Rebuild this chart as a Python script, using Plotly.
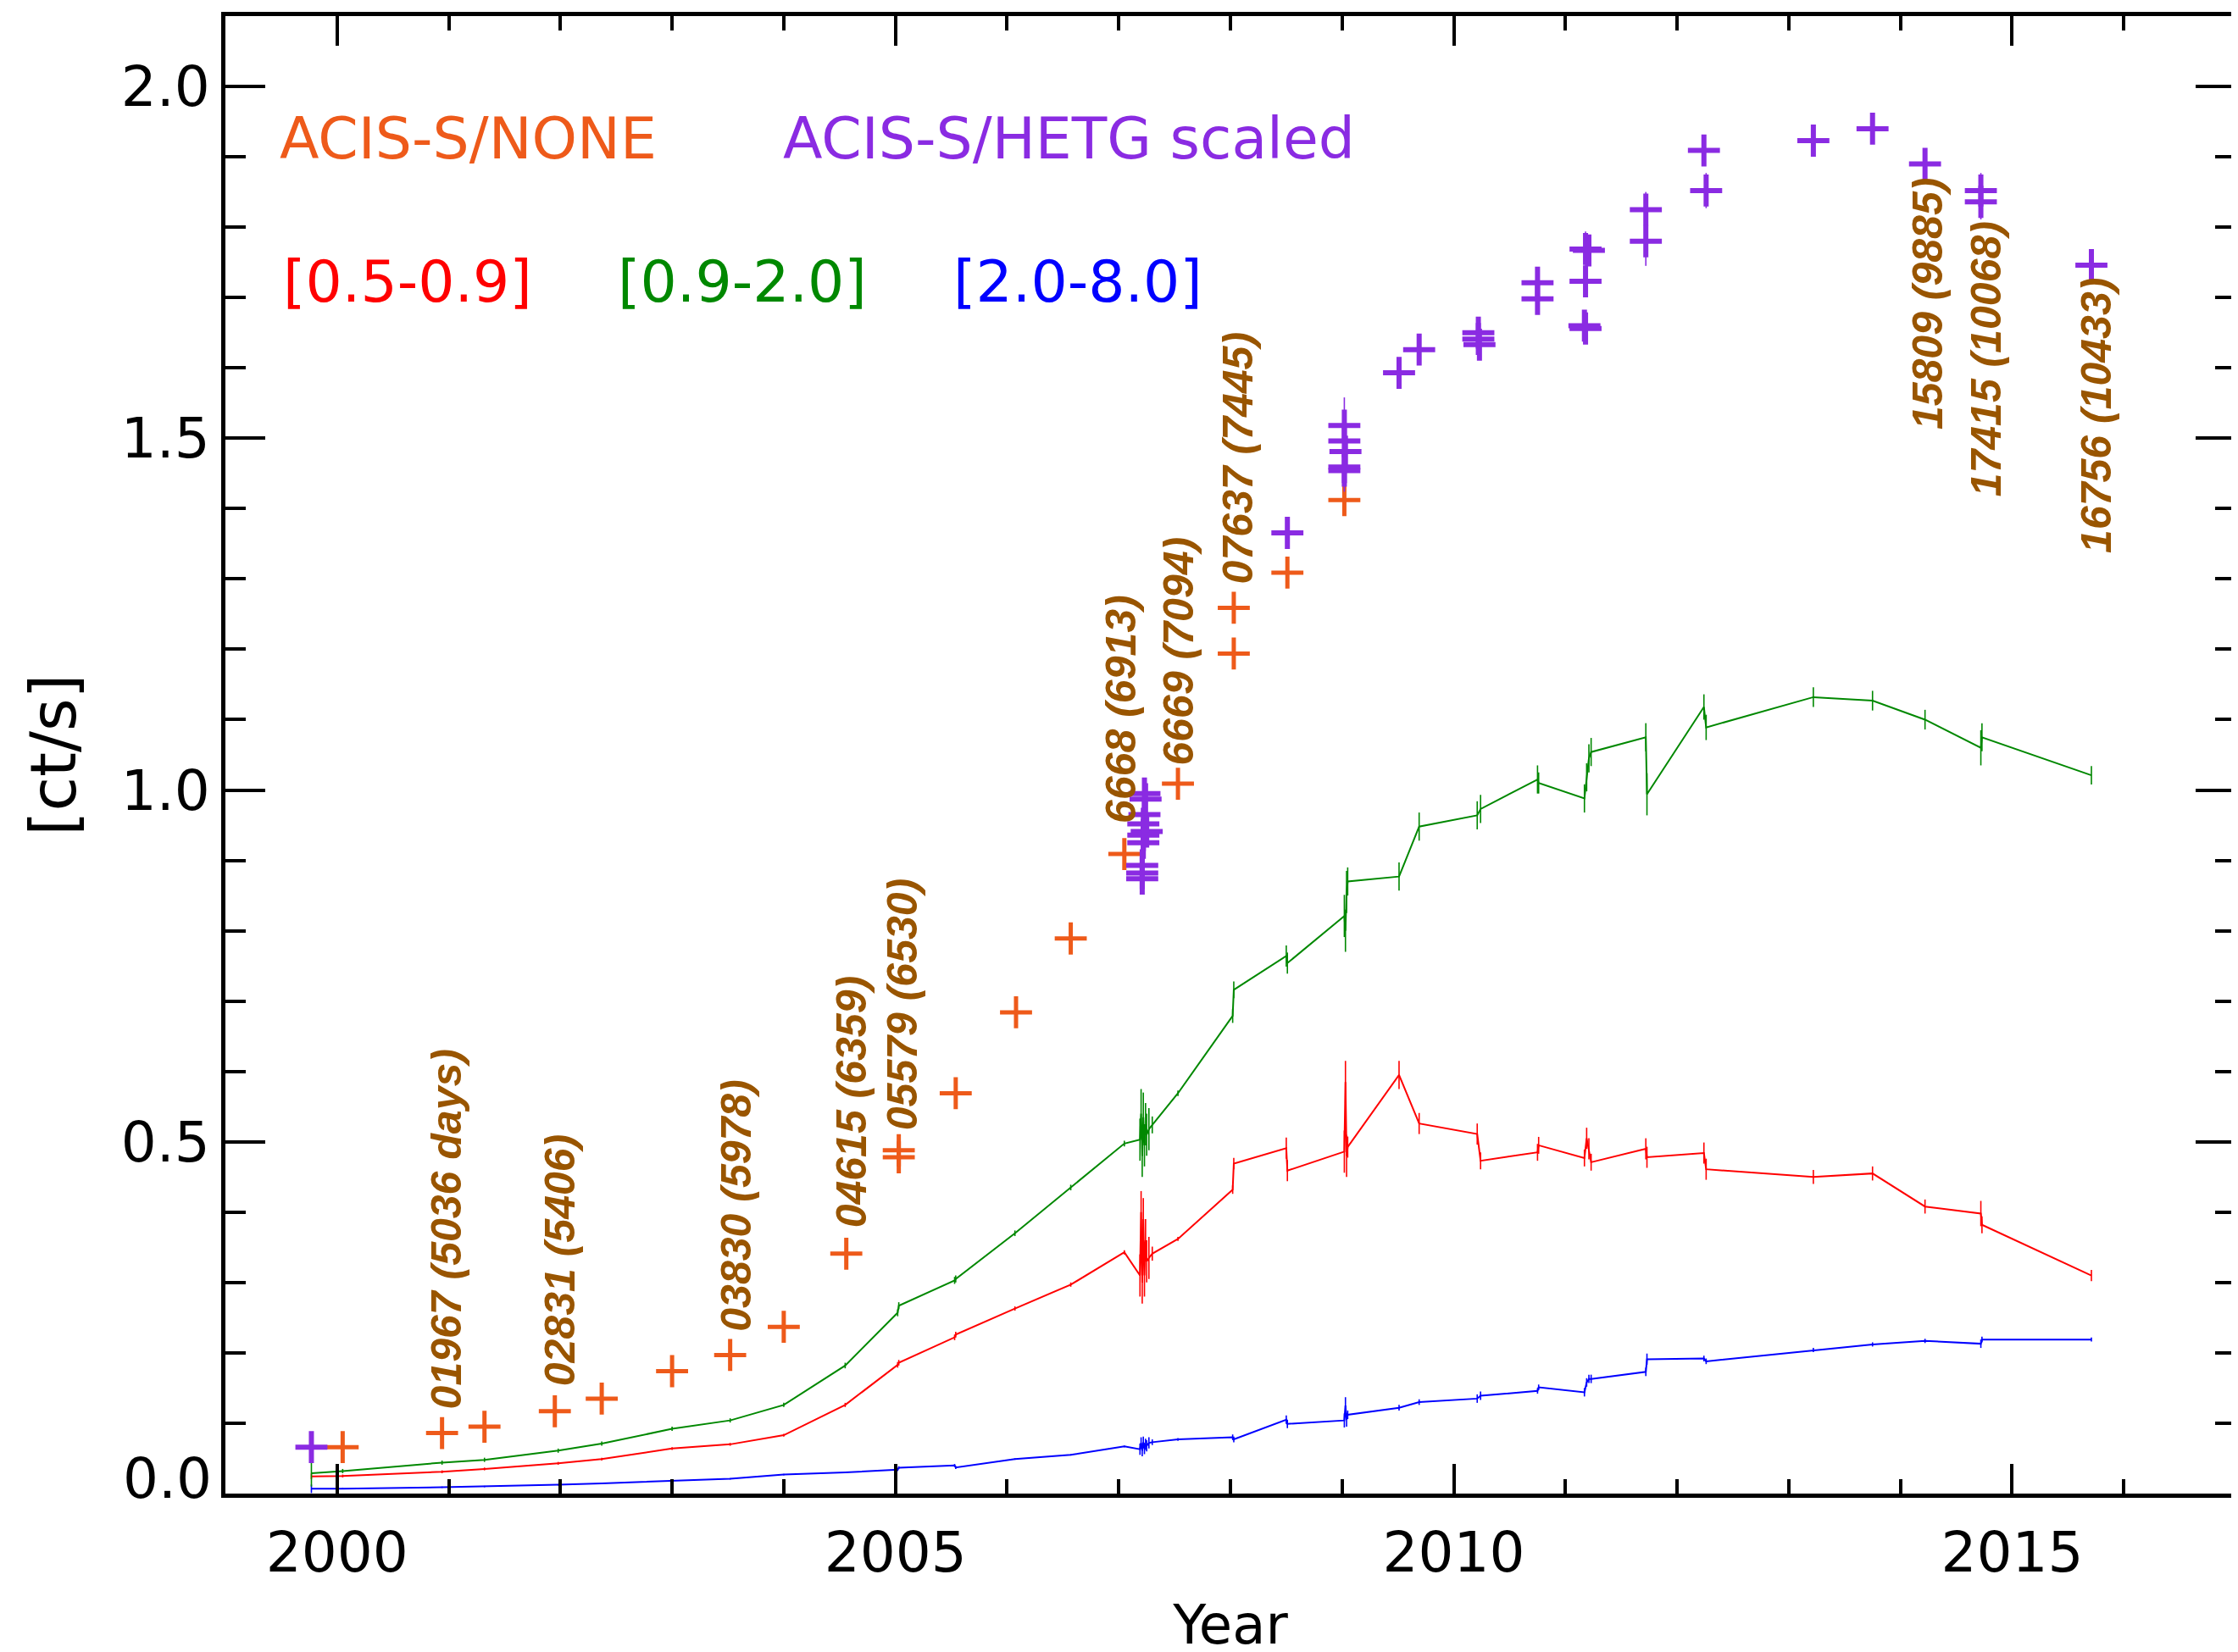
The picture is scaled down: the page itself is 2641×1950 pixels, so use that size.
import plotly.graph_objects as go

# ---------------- data ----------------
# observation epochs used by the three band light curves
t_band = [1999.77, 2000.05, 2000.94, 2001.32, 2001.98, 2002.37, 2003.00, 2003.52, 2004.00, 2004.55,
          2005.02, 2005.03, 2005.53, 2005.54, 2006.07, 2006.57, 2007.05,
          2007.19, 2007.20, 2007.21, 2007.22, 2007.23, 2007.24, 2007.25, 2007.27, 2007.30,
          2007.53, 2008.02, 2008.03, 2008.50, 2008.51,
          2009.02, 2009.03, 2009.04, 2009.05, 2009.51, 2009.69,
          2010.21, 2010.24, 2010.75, 2010.76,
          2011.17, 2011.19, 2011.21, 2011.23, 2011.72, 2011.73,
          2012.24, 2012.26, 2013.22, 2013.75, 2014.22, 2014.72, 2014.73, 2015.71]

rate_09_20 = [0.029, 0.032, 0.044, 0.048, 0.061, 0.071, 0.092, 0.104, 0.126, 0.182,
              0.257, 0.267, 0.303, 0.305, 0.370, 0.435, 0.4975,
              0.503, 0.540, 0.480, 0.535, 0.495, 0.525, 0.510, 0.518, 0.524,
              0.569, 0.679, 0.716, 0.764, 0.754,
              0.821, 0.800, 0.855, 0.870, 0.877, 0.948,
              0.964, 0.973, 1.015, 1.010,
              0.988, 1.018, 1.045, 1.054, 1.075, 0.994,
              1.118, 1.089, 1.132, 1.127, 1.100, 1.060, 1.075, 1.021]
err_09_20 = [0.019, 0.003, 0.003, 0.003, 0.003, 0.003, 0.003, 0.003, 0.003, 0.004,
             0.005, 0.005, 0.005, 0.005, 0.004, 0.004, 0.004,
             0.030, 0.035, 0.030, 0.035, 0.030, 0.030, 0.030, 0.030, 0.012,
             0.004, 0.010, 0.012, 0.015, 0.015,
             0.030, 0.030, 0.030, 0.020, 0.020, 0.020,
             0.020, 0.020, 0.020, 0.015,
             0.020, 0.020, 0.020, 0.020, 0.020, 0.030,
             0.018, 0.018, 0.014, 0.014, 0.014, 0.025, 0.020, 0.013]

rate_05_09 = [0.0245, 0.025, 0.031, 0.035, 0.043, 0.049, 0.064, 0.070, 0.083, 0.126,
              0.183, 0.186, 0.222, 0.226, 0.263, 0.297, 0.343,
              0.310, 0.400, 0.300, 0.390, 0.310, 0.360, 0.330, 0.335, 0.341,
              0.362, 0.432, 0.469, 0.491, 0.459,
              0.486, 0.585, 0.480, 0.4925, 0.595, 0.526,
              0.511, 0.473, 0.485, 0.495,
              0.477, 0.505, 0.490, 0.471, 0.490, 0.478,
              0.484, 0.461, 0.450, 0.455, 0.408, 0.398, 0.382, 0.310]
err_05_09 = [0.004, 0.002, 0.002, 0.002, 0.002, 0.002, 0.002, 0.002, 0.002, 0.003,
             0.004, 0.004, 0.004, 0.004, 0.003, 0.003, 0.003,
             0.030, 0.030, 0.030, 0.030, 0.030, 0.030, 0.030, 0.030, 0.010,
             0.003, 0.006, 0.008, 0.015, 0.015,
             0.030, 0.030, 0.030, 0.015, 0.020, 0.015,
             0.015, 0.012, 0.012, 0.012,
             0.012, 0.015, 0.015, 0.012, 0.015, 0.015,
             0.015, 0.015, 0.010, 0.010, 0.010, 0.018, 0.012, 0.008]

rate_20_80 = [0.0068, 0.007, 0.009, 0.010, 0.0125, 0.0146, 0.018, 0.021, 0.027, 0.030,
              0.034, 0.0368, 0.040, 0.037, 0.049, 0.055, 0.067,
              0.063, 0.072, 0.061, 0.073, 0.064, 0.070, 0.068, 0.072, 0.073,
              0.077, 0.080, 0.077, 0.105, 0.099,
              0.104, 0.125, 0.105, 0.112, 0.122, 0.130,
              0.135, 0.139, 0.146, 0.151,
              0.144, 0.158, 0.163, 0.163, 0.173, 0.191,
              0.192, 0.188, 0.204, 0.212, 0.217, 0.213, 0.219, 0.219]
err_20_80 = [0.006, 0.001, 0.001, 0.001, 0.001, 0.001, 0.001, 0.001, 0.001, 0.001,
             0.002, 0.002, 0.002, 0.002, 0.001, 0.001, 0.001,
             0.008, 0.008, 0.008, 0.008, 0.008, 0.008, 0.008, 0.008, 0.004,
             0.002, 0.004, 0.004, 0.006, 0.006,
             0.010, 0.012, 0.010, 0.006, 0.004, 0.004,
             0.006, 0.006, 0.004, 0.004,
             0.006, 0.006, 0.006, 0.006, 0.006, 0.008,
             0.004, 0.004, 0.003, 0.003, 0.003, 0.006, 0.004, 0.003]

# ACIS-S/NONE total rates
t_none = [2000.05, 2000.94, 2001.32, 2001.95, 2002.37, 2003.00, 2003.52, 2004.00, 2004.56, 2005.03,
          2005.03, 2005.54, 2006.08, 2006.57, 2007.05, 2007.53, 2008.03, 2008.03, 2008.51, 2009.02]
rate_none = [0.066, 0.086, 0.095, 0.117, 0.135, 0.174, 0.197, 0.237, 0.341, 0.478,
             0.488, 0.569, 0.684, 0.789, 0.909, 1.009, 1.194, 1.259, 1.309, 1.412]

# ACIS-S/HETG scaled rates
t_hetg = [1999.77,
          2007.23, 2007.24, 2007.23, 2007.22, 2007.25, 2007.22, 2007.22, 2007.21, 2007.21, 2007.21,
          2008.51,
          2009.02, 2009.02, 2009.03, 2009.02, 2009.02,
          2009.51, 2009.69,
          2010.22, 2010.22, 2010.23,
          2010.75, 2010.75,
          2011.18, 2011.21, 2011.18, 2011.17, 2011.18,
          2011.72, 2011.72,
          2012.24, 2012.26, 2013.22, 2013.75, 2014.22, 2014.72, 2014.72, 2015.71]
rate_hetg = [0.066,
             0.995, 0.987, 0.965, 0.952, 0.941, 0.936, 0.925, 0.893, 0.882, 0.874,
             1.3655,
             1.518, 1.496, 1.481, 1.459, 1.454,
             1.593, 1.626,
             1.650, 1.641, 1.633,
             1.721, 1.698,
             1.769, 1.767, 1.723, 1.660, 1.656,
             1.825, 1.780,
             1.909, 1.852, 1.923, 1.940, 1.890, 1.852, 1.836, 1.746]
err_hetg = [0.015,
            0.015, 0.015, 0.015, 0.015, 0.015, 0.015, 0.015, 0.015, 0.015, 0.015,
            0.015,
            0.040, 0.020, 0.020, 0.020, 0.030,
            0.020, 0.020,
            0.020, 0.020, 0.020,
            0.020, 0.020,
            0.025, 0.020, 0.020, 0.020, 0.020,
            0.025, 0.035,
            0.020, 0.025, 0.012, 0.015, 0.012, 0.025, 0.025, 0.010]

# observation labels
obs_labels = ["01967 (5036 days)", "02831 (5406)", "03830 (5978)", "04615 (6359)",
              "05579 (6530)", "6668 (6913)", "6669 (7094)", "07637 (7445)",
              "15809 (9885)", "17415 (10068)", "16756 (10433)"]
obs_label_x = [2000.98, 2002.00, 2003.58, 2004.61, 2005.06, 2007.02, 2007.54, 2008.07,
               2014.25, 2014.77, 2015.75]
obs_label_y = [0.118, 0.150, 0.228, 0.375, 0.514, 0.950, 1.033, 1.290,
               1.510, 1.414, 1.334]

x_ticks = [2000, 2005, 2010, 2015]
y_ticks = [0.5, 1.0, 1.5, 2.0]

# ---------------- styles ----------------
C_NONE = "#EE5A1A"
C_HETG = "#8A2BE2"
C_LBL = "#995500"
C_GREEN = "#008800"
C_RED = "#FF0000"
C_BLUE = "#0000FF"
FONT = "DejaVu Sans"

fig = go.Figure()

for y, e, c in [(rate_20_80, err_20_80, C_BLUE),
                (rate_05_09, err_05_09, C_RED),
                (rate_09_20, err_09_20, C_GREEN)]:
    fig.add_trace(go.Scatter(
        x=t_band, y=y, mode="lines",
        line=dict(color=c, width=2),
        error_y=dict(type="data", array=e, width=0, thickness=1.6, color=c),
        showlegend=False, hoverinfo="skip"))

fig.add_trace(go.Scatter(
    x=t_none, y=rate_none, mode="markers",
    marker=dict(symbol="cross-thin", size=27, line=dict(color=C_NONE, width=5)),
    showlegend=False))

fig.add_trace(go.Scatter(
    x=t_hetg, y=rate_hetg, mode="markers",
    marker=dict(symbol="cross-thin", size=27, line=dict(color=C_HETG, width=6)),
    error_y=dict(type="data", array=err_hetg, width=0, thickness=1.6, color=C_HETG),
    showlegend=False))

annotations = []
for txt, x, y in zip(obs_labels, obs_label_x, obs_label_y):
    annotations.append(dict(
        x=x, y=y, xref="x", yref="y", text="<b><i>" + txt + "</i></b>",
        textangle=-90, showarrow=False, xanchor="center", yanchor="bottom",
        font=dict(family="Liberation Sans", size=50, color=C_LBL)))

legend_items = [("ACIS-S/NONE", 1999.47, 1.926, C_NONE),
                ("ACIS-S/HETG scaled", 2003.98, 1.926, C_HETG),
                ("[0.5-0.9]", 1999.50, 1.722, C_RED),
                ("[0.9-2.0]", 2002.50, 1.722, C_GREEN),
                ("[2.0-8.0]", 2005.50, 1.722, C_BLUE)]
for txt, x, y, c in legend_items:
    annotations.append(dict(
        x=x, y=y, xref="x", yref="y", text=txt, showarrow=False,
        xanchor="left", yanchor="middle",
        font=dict(family=FONT, size=68, color=c)))

# zero label sits just above the bottom axis, as in the original
annotations.append(dict(
    x=0, y=0, xref="paper", yref="y", text="0.0", showarrow=False,
    xanchor="right", yanchor="bottom", xshift=-14, yshift=-23,
    font=dict(family=FONT, size=66, color="black")))

fig.update_layout(
    width=2641, height=1950,
    margin=dict(l=258, r=11, t=6, b=195),
    paper_bgcolor="white", plot_bgcolor="white",
    annotations=annotations,
    font=dict(family=FONT, color="black"),
)

fig.update_xaxes(
    range=[1999, 2017], tickvals=x_ticks, ticktext=[str(v) for v in x_ticks],
    ticks="inside", ticklen=35, tickwidth=4, tickcolor="black",
    minor=dict(ticks="inside", dtick=1, tick0=1999, ticklen=17, tickwidth=4, tickcolor="black"),
    showline=True, linewidth=5, linecolor="black", mirror="ticks",
    showgrid=False, zeroline=False, ticklabelstandoff=8,
    tickfont=dict(family=FONT, size=66, color="black"),
    title=dict(text="Year", font=dict(family=FONT, size=64, color="black"), standoff=26),
)
fig.update_yaxes(
    range=[0, 2.1], tickvals=[0.0] + y_ticks,
    ticktext=[""] + ["%.1f" % v for v in y_ticks],
    ticks="inside", ticklen=47, tickwidth=4, tickcolor="black",
    minor=dict(ticks="inside", dtick=0.1, tick0=0, ticklen=24, tickwidth=4, tickcolor="black"),
    showline=True, linewidth=5, linecolor="black", mirror="ticks",
    showgrid=False, zeroline=False,
    tickfont=dict(family=FONT, size=66, color="black"),
    title=dict(text="[ct/s]", font=dict(family=FONT, size=74, color="black"), standoff=30),
)

fig.write_html("out.html")
